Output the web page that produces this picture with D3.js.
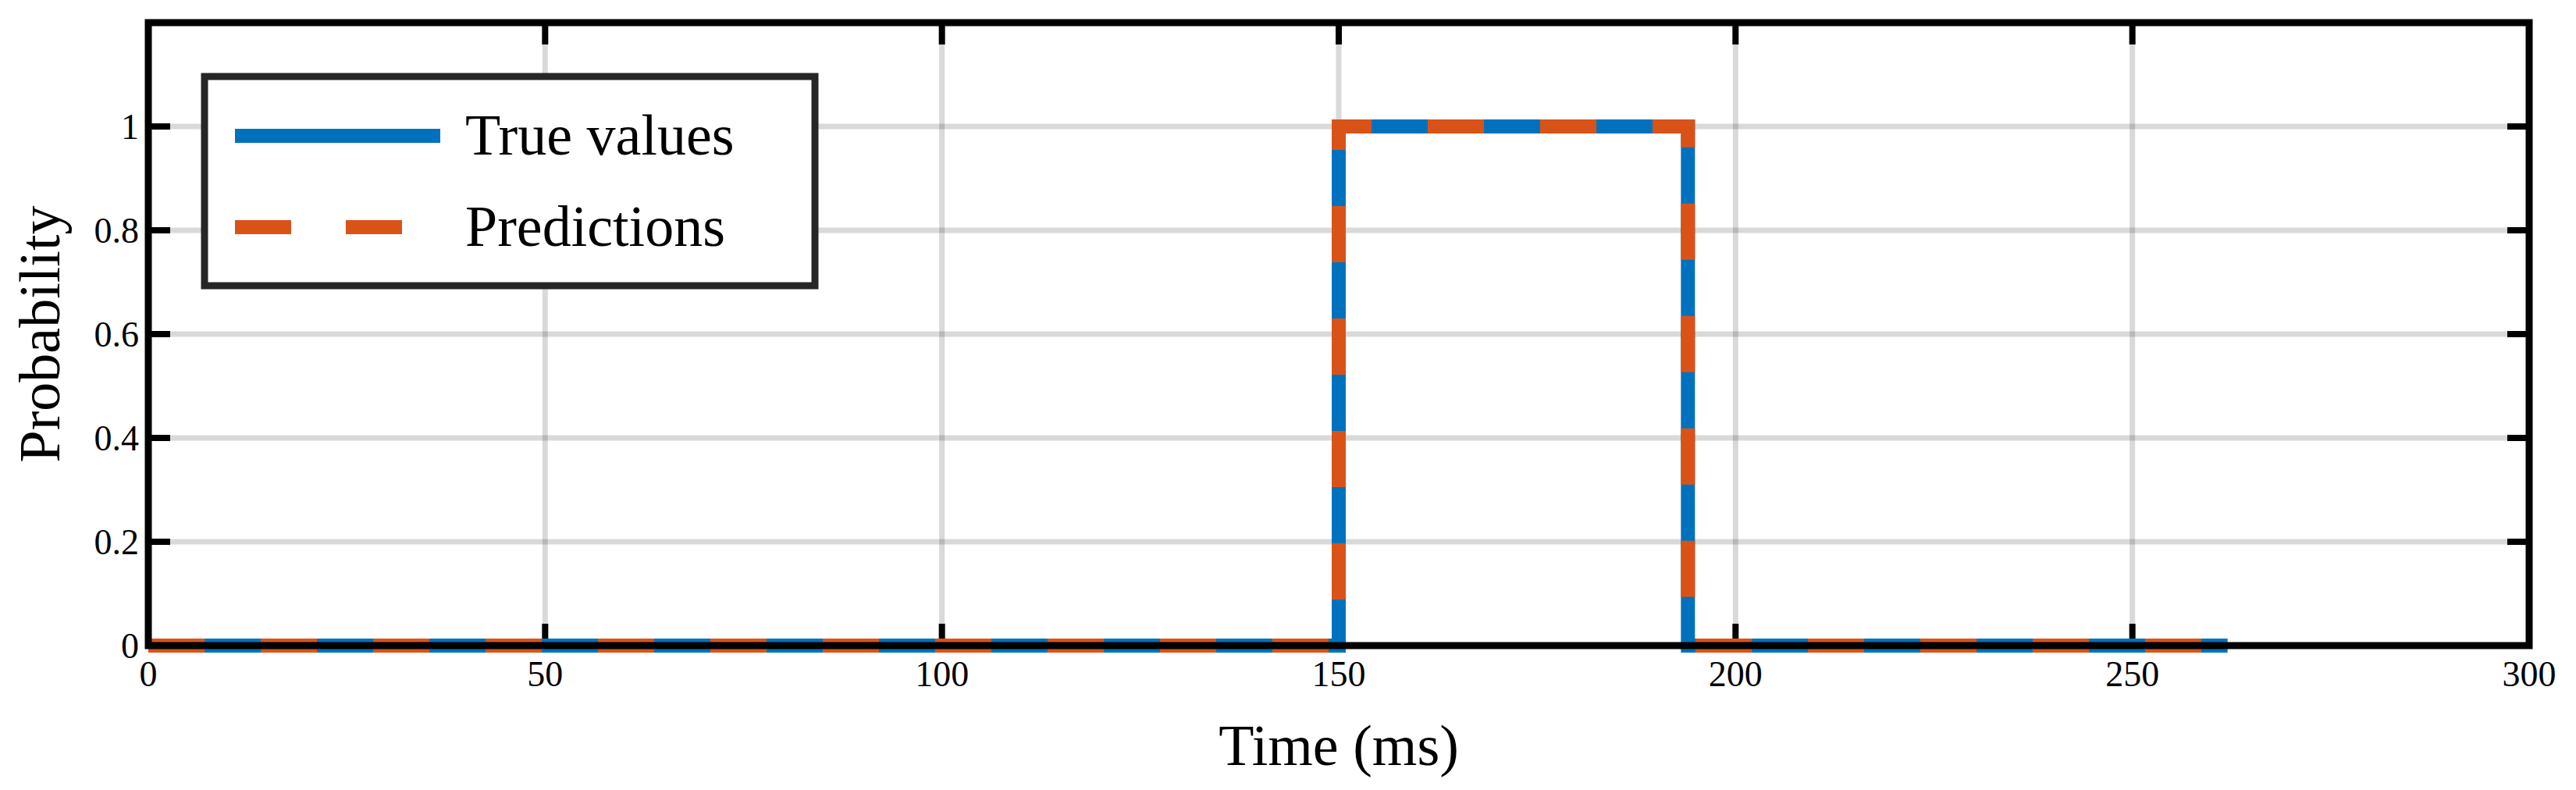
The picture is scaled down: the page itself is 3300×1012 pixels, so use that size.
<!DOCTYPE html>
<html><head><meta charset="utf-8">
<script src="https://cdn.jsdelivr.net/npm/d3@7"></script>
<style>body{margin:0;background:#fff}</style></head>
<body><svg id="c" width="3300" height="1012"></svg>
<script>
const times = [0, 150, 150, 194, 194, 262];
const trueValues = [0, 0, 1, 1, 0, 0];
const predValues = [0, 0, 1, 1, 0, 0];
const xTicks = [0, 50, 100, 150, 200, 250, 300];
const yTicks = [0, 0.2, 0.4, 0.6, 0.8, 1];
const seriesNames = ["True values", "Predictions"];
const colors = ["#0072BD", "#D95319"];

const W = 3300, H = 1012, m = {l:190, r:60, t:29, b:185};
const svg = d3.select("#c");
const font = "'Liberation Serif','DejaVu Serif',serif";
const x = d3.scaleLinear().domain([0,300]).range([m.l, W-m.r]);
const y = d3.scaleLinear().domain([0,1.2]).range([H-m.b, m.t]);
const g = svg.append("g");
g.selectAll(".gx").data(xTicks).join("line").attr("x1",d=>x(d)).attr("x2",d=>x(d))
 .attr("y1",y(0)).attr("y2",y(1.2)).attr("stroke","#000").attr("stroke-opacity",0.15).attr("stroke-width",7);
g.selectAll(".gy").data(yTicks).join("line").attr("y1",d=>y(d)).attr("y2",d=>y(d))
 .attr("x1",x(0)).attr("x2",x(300)).attr("stroke","#000").attr("stroke-opacity",0.15).attr("stroke-width",7);
const tl=28;
xTicks.forEach(t=>{
  g.append("line").attr("x1",x(t)).attr("x2",x(t)).attr("y1",y(0)).attr("y2",y(0)-tl).attr("stroke","#000").attr("stroke-width",8);
  g.append("line").attr("x1",x(t)).attr("x2",x(t)).attr("y1",y(1.2)).attr("y2",y(1.2)+tl).attr("stroke","#000").attr("stroke-width",8);
  g.append("text").attr("x",x(t)).attr("y",y(0)+52).attr("text-anchor","middle").attr("font-family",font).attr("font-size",46).text(t);
});
yTicks.forEach(t=>{
  g.append("line").attr("y1",y(t)).attr("y2",y(t)).attr("x1",x(0)).attr("x2",x(0)+tl).attr("stroke","#000").attr("stroke-width",8);
  g.append("line").attr("y1",y(t)).attr("y2",y(t)).attr("x1",x(300)).attr("x2",x(300)-tl).attr("stroke","#000").attr("stroke-width",8);
  g.append("text").attr("x",x(0)-12).attr("y",y(t)+16).attr("text-anchor","end").attr("font-family",font).attr("font-size",46).text(t);
});
const line = d3.line().x(d=>x(d[0])).y(d=>y(d[1]));
g.append("path").attr("d",line(times.map((t,i)=>[t,trueValues[i]]))).attr("fill","none")
 .attr("stroke",colors[0]).attr("stroke-width",18).attr("stroke-linejoin","miter");
g.append("path").attr("d",line(times.map((t,i)=>[t,predValues[i]]))).attr("fill","none")
 .attr("stroke",colors[1]).attr("stroke-width",18).attr("stroke-dasharray","72,72").attr("stroke-linejoin","miter");
g.append("rect").attr("x",x(0)).attr("y",y(1.2)).attr("width",x(300)-x(0)).attr("height",y(0)-y(1.2))
 .attr("fill","none").attr("stroke","#000").attr("stroke-width",9);
svg.append("text").attr("x",(x(0)+x(300))/2).attr("y",980).attr("text-anchor","middle").attr("font-family",font).attr("font-size",74).text("Time (ms)");
svg.append("text").attr("transform",`translate(76,${(y(0)+y(1.2))/2}) rotate(-90)`).attr("text-anchor","middle").attr("font-family",font).attr("font-size",74).text("Probability");
const lg = svg.append("g");
lg.append("rect").attr("x",262).attr("y",98).attr("width",782).attr("height",268).attr("fill","#fff").attr("stroke","#262626").attr("stroke-width",9);
[0,1].forEach(i=>{
  const yy = 174 + i*117;
  lg.append("line").attr("x1",301).attr("x2",564).attr("y1",yy).attr("y2",yy).attr("stroke",colors[i]).attr("stroke-width",18)
    .attr("stroke-dasharray", i===1 ? "72,70" : null);
  lg.append("text").attr("x",596).attr("y",yy+24).attr("font-family",font).attr("font-size",74).text(seriesNames[i]);
});
</script></body></html>
